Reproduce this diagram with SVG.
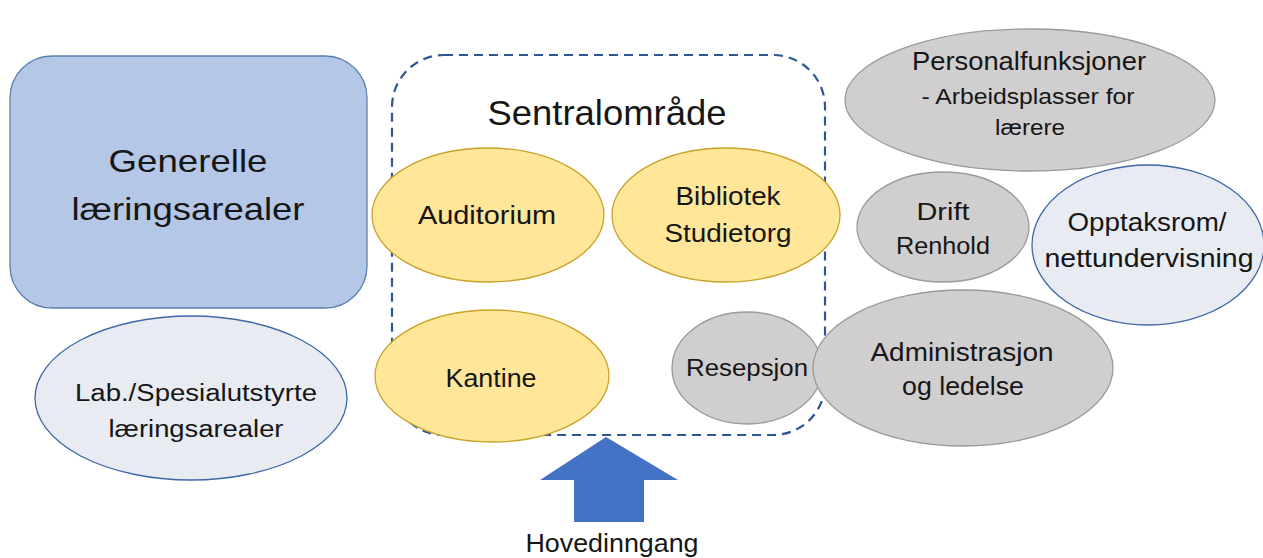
<svg xmlns="http://www.w3.org/2000/svg" width="1263" height="558" viewBox="0 0 1263 558">
<style>
text{font-family:"Liberation Sans",Arial,sans-serif;fill:#161616;text-anchor:middle}
.y{fill:#FFE699;stroke:#C9A227;stroke-width:1.3}
.g{fill:#D0CECE;stroke:#9A9A9A;stroke-width:1.3}
.l{fill:#E8EBF1;stroke:#3F67A8;stroke-width:1.3}
.t25{font-size:25px}
.t23{font-size:23px}
</style>
<rect width="1263" height="558" fill="#fff"/>
<g id="sentral">
<rect x="392" y="55" width="433" height="380" rx="52" fill="none" stroke="#2F5597" stroke-width="2.2" stroke-dasharray="9 6"/>
<text x="607" y="125" font-size="35" textLength="239" lengthAdjust="spacingAndGlyphs">Sentralområde</text>
</g>
<g id="generelle">
<rect x="10" y="56" width="357" height="252" rx="42" fill="#B4C7E7" stroke="#5B80B0" stroke-width="1.3"/>
<text x="188" y="172" font-size="32" textLength="159" lengthAdjust="spacingAndGlyphs">Generelle</text>
<text x="188" y="220" font-size="32" textLength="233" lengthAdjust="spacingAndGlyphs">læringsarealer</text>
</g>
<g id="lab">
<ellipse class="l" cx="191" cy="398" rx="156" ry="82"/>
<text class="t23" x="196" y="401" textLength="242" lengthAdjust="spacingAndGlyphs">Lab./Spesialutstyrte</text>
<text class="t23" x="196" y="437" textLength="175" lengthAdjust="spacingAndGlyphs">læringsarealer</text>
</g>
<g id="auditorium">
<ellipse class="y" cx="488" cy="215" rx="116" ry="67"/>
<text class="t25" x="487" y="224" textLength="138" lengthAdjust="spacingAndGlyphs">Auditorium</text>
</g>
<g id="bibliotek">
<ellipse class="y" cx="726" cy="215" rx="114" ry="67"/>
<text class="t25" x="728" y="205" textLength="105" lengthAdjust="spacingAndGlyphs">Bibliotek</text>
<text class="t25" x="728" y="242" textLength="127" lengthAdjust="spacingAndGlyphs">Studietorg</text>
</g>
<g id="kantine">
<ellipse class="y" cx="492" cy="376" rx="117" ry="66"/>
<text class="t25" x="491" y="387" textLength="91" lengthAdjust="spacingAndGlyphs">Kantine</text>
</g>
<g id="resepsjon">
<ellipse class="g" cx="747" cy="368" rx="75" ry="56"/>
<text class="t23" x="747" y="376" textLength="122" lengthAdjust="spacingAndGlyphs">Resepsjon</text>
</g>
<g id="administrasjon">
<ellipse class="g" cx="963" cy="368" rx="150" ry="78"/>
<text class="t25" x="962" y="361" textLength="183" lengthAdjust="spacingAndGlyphs">Administrasjon</text>
<text class="t25" x="963" y="395" textLength="122" lengthAdjust="spacingAndGlyphs">og ledelse</text>
</g>
<g id="personal">
<ellipse class="g" cx="1030" cy="100" rx="185" ry="71"/>
<text class="t25" x="1029" y="70" textLength="234" lengthAdjust="spacingAndGlyphs">Personalfunksjoner</text>
<text x="1028" y="104" font-size="22" textLength="213" lengthAdjust="spacingAndGlyphs">- Arbeidsplasser for</text>
<text x="1030" y="135" font-size="22" textLength="70" lengthAdjust="spacingAndGlyphs">lærere</text>
</g>
<g id="drift">
<ellipse class="g" cx="943" cy="227" rx="86" ry="55"/>
<text class="t23" x="943" y="220" textLength="53" lengthAdjust="spacingAndGlyphs">Drift</text>
<text class="t23" x="943" y="254" textLength="94" lengthAdjust="spacingAndGlyphs">Renhold</text>
</g>
<g id="opptaksrom">
<ellipse class="l" cx="1148" cy="245" rx="116" ry="80"/>
<text class="t25" x="1147" y="231" textLength="159" lengthAdjust="spacingAndGlyphs">Opptaksrom/</text>
<text class="t25" x="1149" y="267" textLength="209" lengthAdjust="spacingAndGlyphs">nettundervisning</text>
</g>
<g id="connectors">
<polygon points="606,437 678,480 644,480 644,522 574,522 574,480 540,480" fill="#4472C4"/>
</g>
<g id="hovedinngang">
<text class="t25" x="612" y="552" textLength="173" lengthAdjust="spacingAndGlyphs">Hovedinngang</text>
</g>
</svg>
